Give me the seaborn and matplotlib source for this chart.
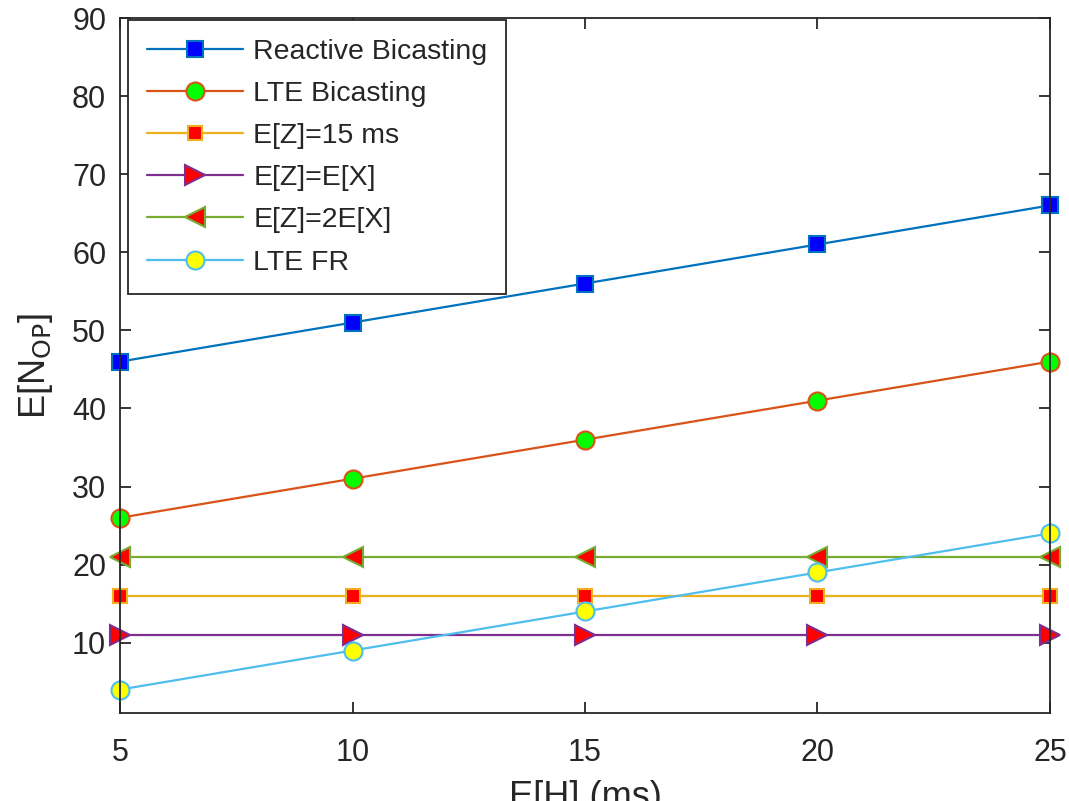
import numpy as np
import pandas as pd
import matplotlib
matplotlib.use("Agg")
import matplotlib.pyplot as plt
import seaborn as sns

# Mean holding time E[H] (ms)
e_h = [5, 10, 15, 20, 25]

reactive_bicasting = [46, 51, 56, 61, 66]
lte_bicasting = [26, 31, 36, 41, 46]
ez_15ms = [16, 16, 16, 16, 16]
ez_ex = [11, 11, 11, 11, 11]
ez_2ex = [21, 21, 21, 21, 21]
lte_fr = [4, 9, 14, 19, 24]

labels = ["Reactive Bicasting", "LTE Bicasting", "E[Z]=15 ms",
          "E[Z]=E[X]", "E[Z]=2E[X]", "LTE FR"]
series = [reactive_bicasting, lte_bicasting, ez_15ms, ez_ex, ez_2ex, lte_fr]

x_ticks = [5, 10, 15, 20, 25]
y_ticks = [10, 20, 30, 40, 50, 60, 70, 80, 90]

# line colour, marker, marker face colour, marker size
styles = [
    ("#0072BD", "s", "#0000FF", 11),
    ("#D95319", "o", "#00FF00", 13),
    ("#EDB120", "s", "#FF0000", 10.5),
    ("#7E2F8E", ">", "#FF0000", 15),
    ("#77AC30", "<", "#FF0000", 15),
    ("#4DBEEE", "o", "#FFFF00", 13),
]

df = pd.DataFrame({
    "E[H]": np.tile(e_h, len(series)),
    "value": np.concatenate(series),
    "series": np.repeat(labels, len(e_h)),
})

sns.set_theme(style="white")
plt.rcParams["font.family"] = ["Liberation Sans", "DejaVu Sans"]

fig = plt.figure(figsize=(10.69, 8.01), dpi=100)
ax = fig.add_axes([0.1123, 0.1099, 0.8699, 0.8676])

for label, (color, marker, face, ms) in zip(labels, styles):
    sub = df[df["series"] == label]
    sns.lineplot(data=sub, x="E[H]", y="value", ax=ax, color=color,
                 linewidth=1.6, marker=marker, markersize=ms,
                 markerfacecolor=face, markeredgecolor=color,
                 markeredgewidth=1.5, label=label, clip_on=False)

ax.set_xlim(5, 25)
ax.set_ylim(1, 90)
ax.set_xticks(x_ticks)
ax.set_yticks(y_ticks)
ax.tick_params(axis="both", which="both", direction="in", length=8, width=1.3,
               color="#262626", labelsize=22, labelcolor="#262626",
               top=True, right=True, bottom=True, left=True)
ax.tick_params(axis="x", pad=18)
ax.tick_params(axis="y", pad=10)
for sp in ax.spines.values():
    sp.set_color("#262626")
    sp.set_linewidth(1.3)

ax.set_xlabel("E[H] (ms)", fontsize=26, color="#262626", labelpad=9)
ax.set_ylabel(r"E[N$_{\mathrm{OP}}$]", fontsize=26, color="#262626", labelpad=12)

leg = ax.legend(loc="upper left", bbox_to_anchor=(8 / 930, 1 - 2 / 695),
                borderaxespad=0, fontsize=20.5, handlelength=3.4,
                frameon=True, fancybox=False, labelspacing=0.57,
                borderpad=0.65, handletextpad=0.35)
leg.get_frame().set_edgecolor("#262626")
leg.get_frame().set_linewidth(1.3)
leg.get_frame().set_alpha(1)

fig.savefig("out.png", dpi=100)
